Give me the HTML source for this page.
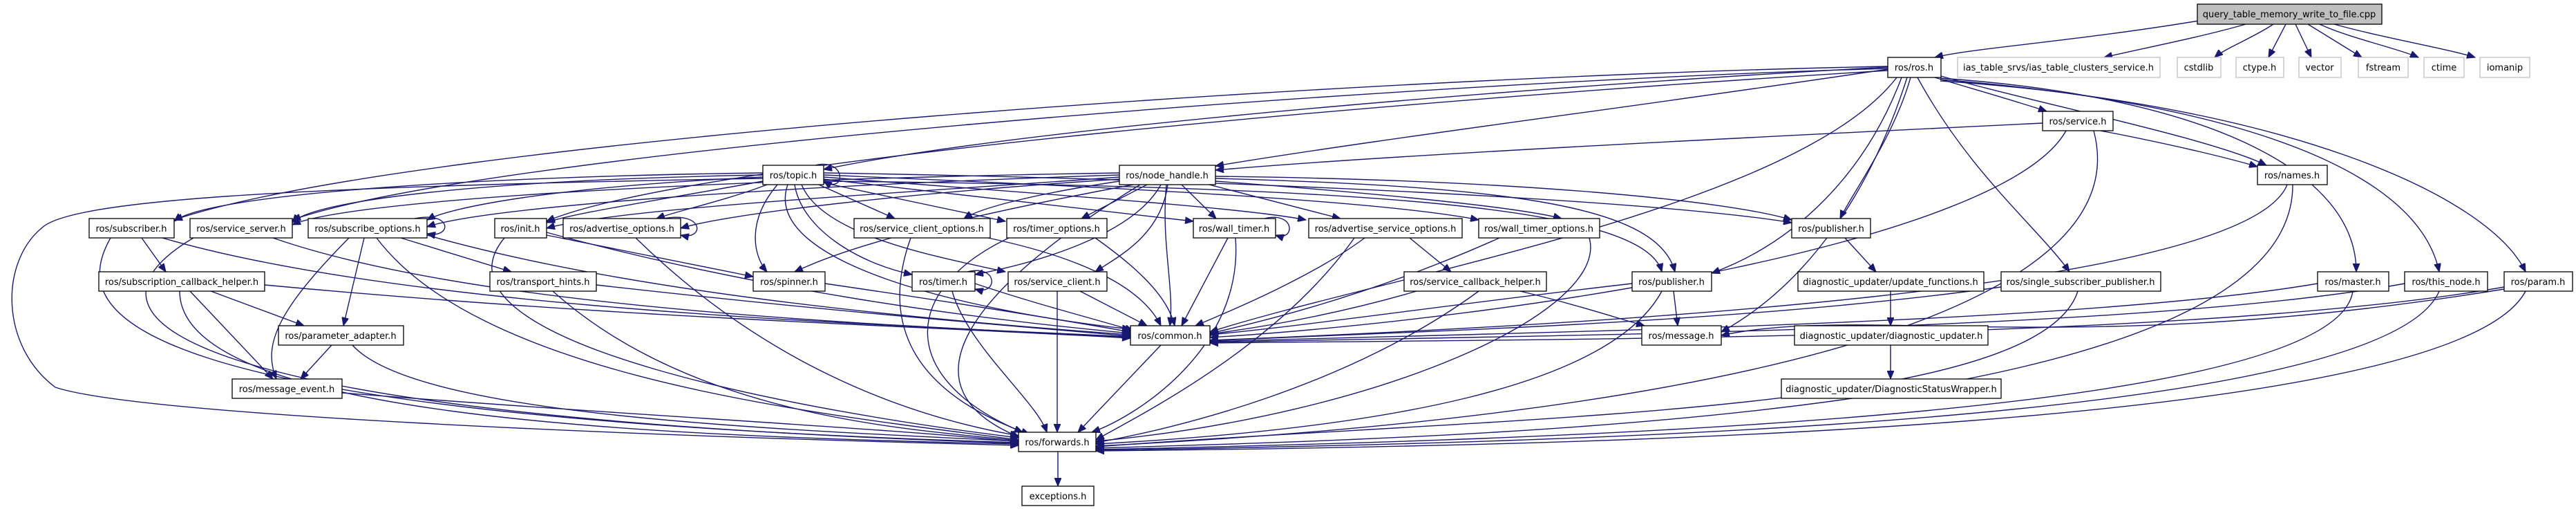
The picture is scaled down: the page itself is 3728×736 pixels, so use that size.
<!DOCTYPE html>
<html><head><meta charset="utf-8"><style>
html,body{margin:0;padding:0;background:#fff;}
svg{display:block;}
text{font-family:"DejaVu Sans","Liberation Sans",sans-serif;font-size:13px;text-anchor:middle;fill:#000;}
.e{fill:none;stroke:#191970;stroke-width:1.4;marker-end:url(#a);}
.n{fill:#fff;stroke:#000;stroke-width:1.3;}
.g{fill:#fff;stroke:#bfbfbf;stroke-width:1.3;}
</style></head><body>
<svg width="3728" height="736" viewBox="0 0 3728 736" xmlns="http://www.w3.org/2000/svg">
<defs><marker id="a" markerUnits="userSpaceOnUse" markerWidth="13" markerHeight="10" refX="12" refY="5" orient="auto"><path d="M0,0 L12,5 L0,10 z" fill="#191970" stroke="#191970"/></marker></defs>
<g>
<path class="e" d="M3182,30 C3000,60 2850,70 2800,83"/>
<path class="e" d="M3250,35 C3180,55 3100,70 3045,83"/>
<path class="e" d="M3290,35 C3260,55 3220,70 3205,83"/>
<path class="e" d="M3308,35 L3283,83"/>
<path class="e" d="M3322,35 L3345,83"/>
<path class="e" d="M3340,35 L3418,83"/>
<path class="e" d="M3357,35 C3400,55 3470,70 3500,83"/>
<path class="e" d="M3378,35 C3450,55 3540,70 3582,83"/>

<path class="e" d="M2732,97 C2300,120 1500,180 1192,245"/>
<path class="e" d="M2732,100 C2400,150 2000,200 1759,240"/>
<path class="e" d="M2732,96 C2000,110 600,200 252,318"/>
<path class="e" d="M2732,99 C2000,120 700,220 423,318"/>
<path class="e" d="M2732,102 C2100,140 1000,230 791,320"/>
<path class="e" d="M2800,112 C2860,130 2930,150 2962,161"/>
<path class="e" d="M2809,110 C2950,150 3200,200 3280,239"/>
<path class="e" d="M2765,112 C2740,200 2680,280 2663,316"/>
<path class="e" d="M2752,112 C2700,250 2600,350 2477,395"/>
<path class="e" d="M2775,112 C2850,250 2950,330 2995,393"/>
<path class="e" d="M2808,113 C3200,140 3410,250 3410,393"/>
<path class="e" d="M2808,115 C3250,150 3500,250 3530,393"/>
<path class="e" d="M2808,117 C3300,150 3600,280 3655,393"/>
<path class="e" d="M2745,112 C2600,300 2000,400 1751,480"/>
<path class="e" d="M2760,112 C2700,300 2600,420 2491,480"/>

<path class="e" d="M2956,178 C2500,200 2000,225 1759,246"/>
<path class="e" d="M3040,189 C3150,210 3230,230 3267,241"/>
<path class="e" d="M2990,189 C2900,350 2200,460 1751,488"/>
<path class="e" d="M3030,189 C3100,450 2500,600 1586,645"/>

<path class="e" d="M3310,267 C3250,420 2300,470 1751,492"/>
<path class="e" d="M3318,267 C3320,600 2200,630 1586,648"/>
<path class="e" d="M3354,410 C3000,470 2200,480 1751,494"/>
<path class="e" d="M3405,421 C3380,600 2300,635 1586,650"/>
<path class="e" d="M3480,410 C3100,480 2200,485 1751,495"/>
<path class="e" d="M3530,421 C3450,610 2300,640 1586,651"/>
<path class="e" d="M3624,415 C3200,490 2300,490 1751,496"/>
<path class="e" d="M3655,421 C3550,620 2300,645 1586,652"/>
<path class="e" d="M3624,418 C3000,520 2700,440 2491,485"/>
<path class="e" d="M2896,415 C2500,470 2000,480 1751,493"/>
<path class="e" d="M3007,421 C2950,600 2200,600 1586,646"/>
<path class="e" d="M2736,421 L2736,471"/>
<path class="e" d="M2736,499 L2736,548"/>
<path class="e" d="M2670,344 L2715,393"/>
<path class="e" d="M2422,421 L2428,471"/>
<path class="e" d="M2362,410 C2100,440 1900,470 1751,484"/>
<path class="e" d="M2405,421 C2330,560 2000,620 1586,642"/>
<path class="e" d="M2050,421 C1950,450 1850,470 1751,483"/>
<path class="e" d="M2140,421 C1950,560 1700,620 1586,640"/>
<path class="e" d="M2200,421 C2280,440 2340,460 2380,471"/>
<path class="e" d="M2170,344 C2000,420 1850,460 1751,482"/>
<path class="e" d="M2300,344 C2330,450 2000,600 1586,638"/>
<path class="e" d="M2040,344 L2100,393"/>
<path class="e" d="M1975,344 C1900,400 1780,450 1730,471"/>
<path class="e" d="M1960,344 C1850,500 1650,600 1586,636"/>
<path class="e" d="M1777,344 L1710,471"/>
<path class="e" d="M1788,344 C1800,500 1650,600 1580,625"/>
<path class="e" d="M1830,316 C1875,305 1875,350 1846,340"/>
<path class="e" d="M1585,344 C1650,390 1690,430 1700,471"/>
<path class="e" d="M1460,344 C1300,420 1300,550 1480,625"/>
<path class="e" d="M1430,344 C1600,380 1660,430 1680,471"/>
<path class="e" d="M1318,344 C1280,450 1300,560 1490,628"/>
<path class="e" d="M1411,410 C1500,440 1580,460 1640,478"/>
<path class="e" d="M1378,421 C1400,500 1500,580 1515,625"/>
<path class="e" d="M1400,393 C1445,382 1445,428 1411,418"/>
<path class="e" d="M1563,421 L1660,471"/>
<path class="e" d="M1530,421 L1530,625"/>
<path class="e" d="M1194,410 C1400,440 1550,465 1636,480"/>

<path class="e" d="M1180,239 C1225,228 1225,282 1192,262"/>
<path class="e" d="M1104,250 C700,255 300,280 252,320"/>
<path class="e" d="M1104,253 C700,260 450,290 423,322"/>
<path class="e" d="M1104,256 C800,270 650,300 618,318"/>
<path class="e" d="M1104,262 C950,290 820,310 791,322"/>
<path class="e" d="M1110,267 C1050,290 980,305 950,316"/>
<path class="e" d="M1125,267 C1080,320 1090,370 1110,393"/>
<path class="e" d="M1150,267 C1160,330 1240,380 1320,397"/>
<path class="e" d="M1160,267 C1190,340 1350,370 1455,393"/>
<path class="e" d="M1185,267 L1295,316"/>
<path class="e" d="M1190,264 L1455,320"/>
<path class="e" d="M1192,259 L1727,320"/>
<path class="e" d="M1192,256 C1500,280 1800,300 1890,318"/>
<path class="e" d="M1192,253 C1600,270 2000,290 2140,318"/>
<path class="e" d="M1192,250 C1800,260 2400,290 2593,322"/>
<path class="e" d="M1192,262 C2000,270 2380,300 2405,393"/>
<path class="e" d="M1140,267 C1100,380 1400,450 1636,476"/>
<path class="e" d="M1104,258 C400,270 100,290 60,330 C0,380 0,500 80,560 C200,600 900,630 1474,644"/>

<path class="e" d="M1620,250 C1000,260 500,290 423,325"/>
<path class="e" d="M1620,253 C1100,270 700,300 618,328"/>
<path class="e" d="M1620,256 C1300,280 900,300 791,330"/>
<path class="e" d="M1620,259 C1300,280 1050,310 985,330"/>
<path class="e" d="M1640,267 C1300,330 1200,370 1150,393"/>
<path class="e" d="M1620,262 C1500,280 1420,300 1395,316"/>
<path class="e" d="M1660,267 L1565,316"/>
<path class="e" d="M1680,267 C1640,340 1500,380 1411,397"/>
<path class="e" d="M1690,267 C1680,340 1620,370 1585,393"/>
<path class="e" d="M1710,267 L1760,316"/>
<path class="e" d="M1750,267 L1940,316"/>
<path class="e" d="M1759,262 C2000,280 2200,300 2260,316"/>
<path class="e" d="M1759,255 C2200,260 2500,290 2593,318"/>
<path class="e" d="M1759,258 C2200,270 2400,300 2424,393"/>
<path class="e" d="M1688,267 C1680,350 1700,420 1693,471"/>
<path class="e" d="M1650,267 C1400,420 1300,560 1475,632"/>

<path class="e" d="M205,344 L240,393"/>
<path class="e" d="M235,344 C600,450 1300,470 1636,487"/>
<path class="e" d="M160,344 C100,450 150,600 1474,640"/>
<path class="e" d="M395,344 C700,450 1300,470 1636,488"/>
<path class="e" d="M280,344 C100,450 200,600 1474,641"/>
<path class="e" d="M600,316 C655,305 655,345 618,338"/>
<path class="e" d="M580,344 L740,393"/>
<path class="e" d="M527,344 L497,471"/>
<path class="e" d="M505,344 C400,450 380,500 400,548"/>
<path class="e" d="M618,340 C900,420 1300,460 1636,484"/>
<path class="e" d="M545,344 C700,550 1200,600 1474,636"/>
<path class="e" d="M791,340 L1090,400"/>
<path class="e" d="M791,336 C1100,420 1400,460 1636,482"/>
<path class="e" d="M730,344 C600,500 1200,600 1474,633"/>
<path class="e" d="M960,316 C1020,305 1020,348 985,340"/>
<path class="e" d="M920,344 C1100,520 1300,600 1474,630"/>
<path class="e" d="M305,421 L440,471"/>
<path class="e" d="M275,421 L395,548"/>
<path class="e" d="M383,412 C900,460 1300,470 1636,489"/>
<path class="e" d="M260,421 C260,600 900,630 1474,642"/>
<path class="e" d="M863,412 C1200,450 1450,470 1636,486"/>
<path class="e" d="M800,421 C1000,600 1300,620 1474,637"/>
<path class="e" d="M480,499 L435,548"/>
<path class="e" d="M510,499 C600,600 1100,620 1474,638"/>
<path class="e" d="M495,568 C900,600 1300,620 1474,639"/>
<path class="e" d="M1680,499 L1560,625"/>
<path class="e" d="M1531,653 L1531,703"/>
</g>
<g>
<rect x="3180" y="6" width="267" height="29" fill="#bfbfbf" stroke="#000" stroke-width="1.3"/><text x="3313" y="25">query_table_memory_write_to_file.cpp</text>
<rect class="n" x="2732" y="83" width="77" height="29"/><text x="2770" y="102">ros/ros.h</text>
<rect class="g" x="2833" y="83" width="293" height="29"/><text x="2979" y="102">ias_table_srvs/ias_table_clusters_service.h</text>
<rect class="g" x="3151" y="83" width="63" height="29"/><text x="3182" y="102">cstdlib</text>
<rect class="g" x="3236" y="83" width="69" height="29"/><text x="3270" y="102">ctype.h</text>
<rect class="g" x="3327" y="83" width="61" height="29"/><text x="3357" y="102">vector</text>
<rect class="g" x="3413" y="83" width="72" height="29"/><text x="3449" y="102">fstream</text>
<rect class="g" x="3508" y="83" width="58" height="29"/><text x="3537" y="102">ctime</text>
<rect class="g" x="3589" y="83" width="72" height="29"/><text x="3625" y="102">iomanip</text>
<rect class="n" x="2956" y="161" width="102" height="28"/><text x="3007" y="180">ros/service.h</text>
<rect class="n" x="1104" y="239" width="88" height="28"/><text x="1148" y="258">ros/topic.h</text>
<rect class="n" x="1620" y="239" width="139" height="28"/><text x="1689" y="258">ros/node_handle.h</text>
<rect class="n" x="3267" y="239" width="101" height="28"/><text x="3317" y="258">ros/names.h</text>

<rect class="n" x="129" y="316" width="123" height="28"/><text x="190" y="335">ros/subscriber.h</text>
<rect class="n" x="275" y="316" width="148" height="28"/><text x="349" y="335">ros/service_server.h</text>
<rect class="n" x="446" y="316" width="172" height="28"/><text x="532" y="335">ros/subscribe_options.h</text>
<rect class="n" x="716" y="316" width="75" height="28"/><text x="753" y="335">ros/init.h</text>
<rect class="n" x="815" y="316" width="170" height="28"/><text x="900" y="335">ros/advertise_options.h</text>
<rect class="n" x="1236" y="316" width="197" height="28"/><text x="1334" y="335">ros/service_client_options.h</text>
<rect class="n" x="1457" y="316" width="145" height="28"/><text x="1529" y="335">ros/timer_options.h</text>
<rect class="n" x="1727" y="316" width="119" height="28"/><text x="1786" y="335">ros/wall_timer.h</text>
<rect class="n" x="1894" y="316" width="222" height="28"/><text x="2005" y="335">ros/advertise_service_options.h</text>
<rect class="n" x="2140" y="316" width="175" height="28"/><text x="2227" y="335">ros/wall_timer_options.h</text>
<rect class="n" x="2593" y="316" width="114" height="28"/><text x="2650" y="335">ros/publisher.h</text>

<rect class="n" x="143" y="393" width="240" height="28"/><text x="263" y="412">ros/subscription_callback_helper.h</text>
<rect class="n" x="709" y="393" width="154" height="28"/><text x="786" y="412">ros/transport_hints.h</text>
<rect class="n" x="1090" y="393" width="104" height="28"/><text x="1142" y="412">ros/spinner.h</text>
<rect class="n" x="1320" y="393" width="91" height="28"/><text x="1365" y="412">ros/timer.h</text>
<rect class="n" x="1459" y="393" width="143" height="28"/><text x="1530" y="412">ros/service_client.h</text>
<rect class="n" x="2032" y="393" width="206" height="28"/><text x="2135" y="412">ros/service_callback_helper.h</text>
<rect class="n" x="2362" y="393" width="115" height="28"/><text x="2419" y="412">ros/publisher.h</text>
<rect class="n" x="2602" y="393" width="269" height="28"/><text x="2736" y="412">diagnostic_updater/update_functions.h</text>
<rect class="n" x="2896" y="393" width="231" height="28"/><text x="3011" y="412">ros/single_subscriber_publisher.h</text>
<rect class="n" x="3354" y="393" width="103" height="28"/><text x="3405" y="412">ros/master.h</text>
<rect class="n" x="3480" y="393" width="120" height="28"/><text x="3540" y="412">ros/this_node.h</text>
<rect class="n" x="3624" y="393" width="99" height="28"/><text x="3673" y="412">ros/param.h</text>

<rect class="n" x="403" y="471" width="181" height="28"/><text x="493" y="490">ros/parameter_adapter.h</text>
<rect class="n" x="1636" y="471" width="115" height="28"/><text x="1693" y="490">ros/common.h</text>
<rect class="n" x="2376" y="471" width="115" height="28"/><text x="2433" y="490">ros/message.h</text>
<rect class="n" x="2597" y="471" width="280" height="28"/><text x="2737" y="490">diagnostic_updater/diagnostic_updater.h</text>

<rect class="n" x="336" y="548" width="159" height="28"/><text x="415" y="567">ros/message_event.h</text>
<rect class="n" x="2578" y="548" width="318" height="28"/><text x="2737" y="567">diagnostic_updater/DiagnosticStatusWrapper.h</text>
<rect class="n" x="1474" y="625" width="112" height="28"/><text x="1530" y="644">ros/forwards.h</text>
<rect class="n" x="1479" y="703" width="104" height="28"/><text x="1531" y="722">exceptions.h</text>
</g>
</svg>
</body></html>
